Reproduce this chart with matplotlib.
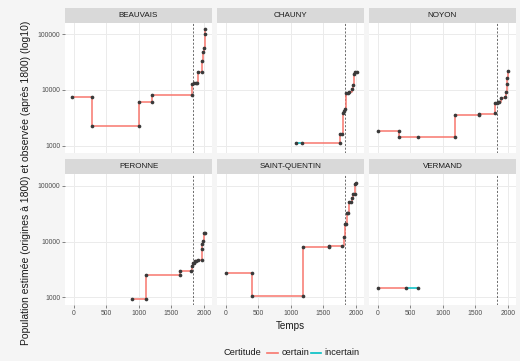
import matplotlib
matplotlib.use("Agg")
import matplotlib.pyplot as plt
from matplotlib.lines import Line2D

plt.rcParams['font.family'] = ['Liberation Sans', 'DejaVu Sans']

# Data (year, population, certitude)
cities = ["BEAUVAIS", "CHAUNY", "NOYON", "PERONNE", "SAINT-QUENTIN", "VERMAND"]

beauvais_years = [-35, 275, 275, 1000, 1000, 1200, 1200, 1810, 1820, 1846, 1871, 1896,
                  1908, 1975, 1975, 1985, 2000, 2010, 2020]
beauvais_pop = [7400, 7400, 2290, 2290, 6000, 6000, 8250, 8250, 12600, 13200, 13200, 13400,
                20700, 20700, 33100, 48800, 57600, 101000, 126000]

chauny_years = [1075, 1165, 1755, 1755, 1785, 1805, 1818, 1833, 1853, 1873, 1894,
                1934, 1954, 1975, 1990, 2010]
chauny_pop = [1130, 1130, 1130, 1620, 1620, 3800, 4200, 4500, 8700, 8950, 9200,
              10300, 12200, 19400, 21000, 21000]
chauny_cert = ["incertain", "certain", "certain", "certain", "certain", "certain", "certain",
               "certain", "certain", "certain", "certain", "certain", "certain", "certain",
               "certain", "certain"]

noyon_years = [0, 325, 325, 620, 1180, 1180, 1550, 1550, 1795, 1807, 1827, 1847, 1868,
               1893, 1959, 1970, 1980, 1985, 2000]
noyon_pop = [1830, 1830, 1430, 1430, 1430, 3500, 3500, 3650, 3900, 5750, 5830, 6000, 6170,
             7300, 7500, 9300, 12800, 16200, 22300]

peronne_years = [898, 1102, 1102, 1633, 1633, 1796, 1811, 1827, 1842, 1862, 1883, 1903,
                 1964, 1964, 1975, 1985, 2000, 2021]
peronne_pop = [920, 920, 2480, 2480, 2970, 2970, 3690, 4060, 4230, 4430, 4560, 4760,
               4760, 7260, 9020, 10240, 14200, 14200]

saint_quentin_years = [5, 400, 400, 1190, 1190, 1590, 1590, 1792, 1813, 1828, 1843, 1858,
                       1883, 1894, 1924, 1944, 1959, 1980, 1980, 2000]
saint_quentin_pop = [2800, 2800, 1070, 1070, 7960, 7960, 8400, 8400, 12200, 20560, 20560,
                     32400, 32400, 51700, 51700, 60100, 71900, 71900, 108600, 114700]

vermand_years = [0, 430, 620]
vermand_pop = [1450, 1450, 1450]
vermand_cert = ["certain", "incertain", "incertain"]

all_years = [beauvais_years, chauny_years, noyon_years, peronne_years,
             saint_quentin_years, vermand_years]
all_pop = [beauvais_pop, chauny_pop, noyon_pop, peronne_pop, saint_quentin_pop, vermand_pop]
all_cert = [None, chauny_cert, None, None, None, vermand_cert]

cutoff_year = 1825
cert_colors = {"certain": "#F8766D", "incertain": "#00BFC4"}

W, H = 520, 361
fig = plt.figure(figsize=(W / 100, H / 100), dpi=100, facecolor='#f5f5f5')

col_px = [(65, 212), (217, 364), (369, 516)]
row_px = [((8, 22.7), (22.7, 153)), ((159, 174), (174, 305))]


def rect(x0, x1, y0, y1):
    return [x0 / W, 1 - y1 / H, (x1 - x0) / W, (y1 - y0) / H]


for k, city in enumerate(cities):
    r, c = divmod(k, 3)
    (sy0, sy1), (py0, py1) = row_px[r]
    x0, x1 = col_px[c]

    # strip
    sax = fig.add_axes(rect(x0, x1, sy0, sy1), facecolor='#d9d9d9')
    sax.set_xticks([])
    sax.set_yticks([])
    for s in sax.spines.values():
        s.set_visible(False)
    sax.text(0.5, 0.5, city, ha='center', va='center', fontsize=5.8, color='#1a1a1a')

    # panel
    ax = fig.add_axes(rect(x0, x1, py0, py1), facecolor='white')
    for s in ax.spines.values():
        s.set_visible(False)
    ax.set_yscale('log')
    ax.set_xlim(-138, 2124)
    ax.set_ylim(10 ** 2.865, 10 ** 5.212)
    ax.set_xticks([0, 500, 1000, 1500, 2000])
    ax.set_yticks([1000, 10000, 100000])
    ax.set_yticks([], minor=True)
    ax.grid(True, color='#ebebeb', lw=0.7)
    ax.set_axisbelow(True)
    ax.tick_params(length=2, width=0.5, color='#555555', labelsize=4.9,
                   labelcolor='#4d4d4d', pad=1.5)
    if c == 0:
        ax.set_yticklabels(["1000", "10000", "100000"])
    else:
        ax.tick_params(axis='y', length=0, labelleft=False)
    if r == 1:
        ax.set_xticklabels(["0", "500", "1000", "1500", "2000"])
    else:
        ax.tick_params(axis='x', length=0, labelbottom=False)

    ax.axvline(cutoff_year, color='#555555', lw=0.6, ls=(0, (2.5, 2)), zorder=1)

    yrs, pop, cert = all_years[k], all_pop[k], all_cert[k]
    for i in range(len(yrs) - 1):
        col = cert_colors[cert[i] if cert else "certain"]
        ax.plot([yrs[i], yrs[i + 1]], [pop[i], pop[i + 1]], drawstyle='steps-post',
                color=col, lw=1.1, zorder=2)
    ax.scatter(yrs, pop, s=7, color='#3a3a3a', zorder=3, linewidths=0)

# axis titles
fig.text(26 / W, 1 - 182.5 / H, "Population estimée (origines à 1800) et observée (après 1800) (log10)",
         rotation=90, ha='center', va='center', fontsize=7.5, color='#1a1a1a')
fig.text(290.5 / W, 1 - 326 / H, "Temps", ha='center', va='center', fontsize=7.1, color='#1a1a1a')

# legend
ly = 1 - 352.6 / H
fig.text(224 / W, ly, "Certitude", ha='left', va='center', fontsize=6.7, color='#1a1a1a')
fig.add_artist(Line2D([267 / W, 278 / W], [ly, ly], transform=fig.transFigure,
                      color=cert_colors["certain"], lw=1.2))
fig.text(282 / W, ly, "certain", ha='left', va='center', fontsize=6.7, color='#1a1a1a')
fig.add_artist(Line2D([311 / W, 321 / W], [ly, ly], transform=fig.transFigure,
                      color=cert_colors["incertain"], lw=1.2))
fig.text(324 / W, ly, "incertain", ha='left', va='center', fontsize=6.7, color='#1a1a1a')

plt.savefig('out.png', dpi=100, facecolor=fig.get_facecolor())
